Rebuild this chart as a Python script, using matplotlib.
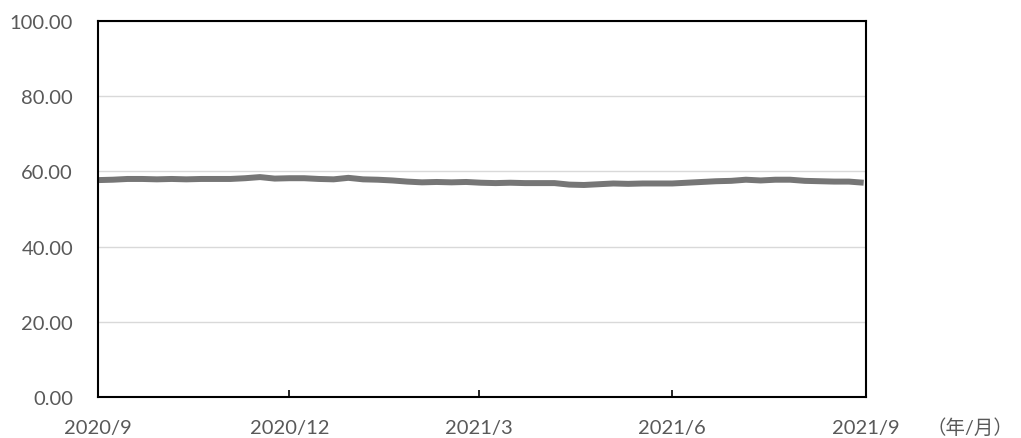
import matplotlib
matplotlib.use("Agg")
import matplotlib.pyplot as plt
import pandas as pd

plt.rcParams['font.family'] = ['Lato', 'Noto Sans CJK JP', 'DejaVu Sans']

# weekly values
dates = pd.date_range("2020-09-01", periods=53, freq="7D")
values = [57.7, 57.8, 58.0, 58.0, 57.9, 58.0, 57.9, 58.0, 58.0, 58.0,
          58.2, 58.5, 58.1, 58.2, 58.2, 58.0, 57.9, 58.3, 57.9, 57.8,
          57.6, 57.3, 57.1, 57.2, 57.1, 57.2, 57.0, 56.9, 57.0, 56.9,
          56.9, 56.9, 56.5, 56.4, 56.6, 56.8, 56.7, 56.8, 56.8, 56.8,
          57.0, 57.2, 57.4, 57.5, 57.8, 57.6, 57.8, 57.8, 57.5, 57.4,
          57.3, 57.3, 57.0]
tick_dates = pd.to_datetime(["2020-09-01", "2020-12-01", "2021-03-01",
                             "2021-06-01", "2021-09-01"])
tick_labels = ["2020/9", "2020/12", "2021/3", "2021/6", "2021/9"]
y_ticks = [0, 20, 40, 60, 80, 100]

fig = plt.figure(figsize=(10.21, 4.39), dpi=100)
ax = fig.add_axes([0.096, 0.093, 0.752, 0.857])

ax.plot(dates, values, color='#767676', lw=4.3, solid_capstyle='butt')

ax.set_xlim(tick_dates[0], tick_dates[-1])
ax.set_ylim(0, 100)
ax.set_xticks(tick_dates)
ax.set_xticklabels(tick_labels)
ax.set_yticks(y_ticks)
ax.set_yticklabels([f"{v:.2f}" for v in y_ticks])

ax.grid(axis='y', color='#d9d9d9', lw=1)
ax.set_axisbelow(True)
for s in ax.spines.values():
    s.set_linewidth(1.5)
    s.set_color('black')

ax.tick_params(axis='x', direction='in', length=5, width=1.2, pad=16,
               labelsize=14.5, labelcolor='#595959')
ax.tick_params(axis='y', length=0, pad=18, labelsize=14.5, labelcolor='#595959')

fig.text(0.993, 0.025, "（年/月）", ha='right', va='center', fontsize=14,
         color='#595959')

fig.savefig("out.png", dpi=100)
